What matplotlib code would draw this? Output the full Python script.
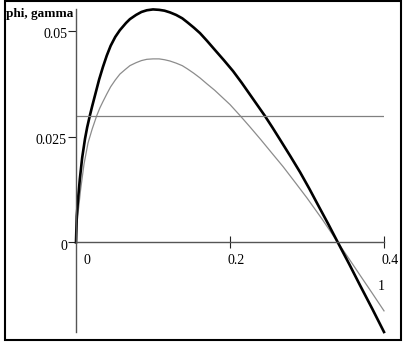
import matplotlib
matplotlib.use('Agg')
import matplotlib.pyplot as plt
from matplotlib.patches import Rectangle
from matplotlib.transforms import offset_copy

plt.rcParams['font.family'] = ['Liberation Serif', 'DejaVu Serif']

# values
l_phi = [0.0, 0.001, 0.0026, 0.005, 0.008, 0.0117, 0.0145, 0.018, 0.021, 0.025,
         0.03, 0.035, 0.04, 0.045, 0.051, 0.057, 0.065, 0.07, 0.078, 0.085,
         0.092, 0.1, 0.108, 0.115, 0.122, 0.13, 0.138, 0.145, 0.153, 0.161,
         0.17, 0.18, 0.192, 0.204, 0.215, 0.225, 0.235, 0.245, 0.255, 0.265,
         0.278, 0.291, 0.303, 0.315, 0.328, 0.34, 0.355, 0.369, 0.385, 0.4]
phi = [0.0, 0.0062, 0.0101, 0.0150, 0.0200, 0.0245, 0.0272, 0.0300, 0.0322, 0.0350,
       0.0385, 0.0415, 0.0442, 0.0465, 0.0486, 0.0502, 0.0519, 0.0528, 0.0538, 0.0545,
       0.0549, 0.0551, 0.0550, 0.0548, 0.0544, 0.0538, 0.0530, 0.0520, 0.0508, 0.0495,
       0.0477, 0.0456, 0.0431, 0.0405, 0.0378, 0.0352, 0.0326, 0.0300, 0.0272, 0.0243,
       0.0205, 0.0166, 0.0127, 0.0086, 0.0042, 0.0, -0.0052, -0.0102, -0.0158, -0.0212]

l_gamma = [0.0, 0.001, 0.003, 0.006, 0.0104, 0.0156, 0.021, 0.027, 0.031, 0.035,
           0.04, 0.045, 0.051, 0.057, 0.064, 0.07, 0.078, 0.085, 0.092, 0.1,
           0.108, 0.115, 0.122, 0.13, 0.138, 0.145, 0.153, 0.161, 0.17, 0.18,
           0.19, 0.2, 0.213, 0.226, 0.24, 0.254, 0.269, 0.285, 0.3, 0.32,
           0.34, 0.355, 0.369, 0.385, 0.4]
gamma = [0.0, 0.0040, 0.0075, 0.0125, 0.0185, 0.0235, 0.0268, 0.0300, 0.0318, 0.0333,
         0.0351, 0.0368, 0.0384, 0.0398, 0.0409, 0.0418, 0.0425, 0.0430, 0.0433, 0.0434,
         0.0434, 0.0432, 0.0429, 0.0424, 0.0418, 0.0410, 0.0400, 0.0389, 0.0375, 0.0360,
         0.0343, 0.0326, 0.0300, 0.0273, 0.0243, 0.0212, 0.0179, 0.0141, 0.0105, 0.0054,
         0.0, -0.0040, -0.0078, -0.0121, -0.0162]

level = 0.03
x_ticks = [0.2, 0.4]
x_labels = ['0', '0.2', '0.4']
x_label_pos = [0.0, 0.2, 0.4]
y_ticks = [0.0, 0.025, 0.05]
y_labels = ['0', '0.025', '0.05']

fig = plt.figure(figsize=(4.03, 3.42), dpi=100)
ax = fig.add_axes([76 / 403, 10 / 342, 308 / 403, 323 / 342])

ax.plot(l_gamma, gamma, color='#8c8c8c', lw=0.9, clip_on=False)
ax.plot(l_phi, phi, color='black', lw=1.9, clip_on=False)
ax.axhline(level, color='#808080', lw=0.9)

ax.set_xlim(0, 0.4)
ax.set_ylim(-0.0212, 0.0552)

ax.spines['top'].set_visible(False)
ax.spines['right'].set_visible(False)
ax.spines['bottom'].set_position(('data', 0))
ax.spines['left'].set_position(('data', 0))
for s in ('bottom', 'left'):
    ax.spines[s].set_color('#555555')
    ax.spines[s].set_linewidth(1.0)

ax.set_xticks(x_ticks)
ax.set_yticks(y_ticks)
ax.tick_params(axis='x', direction='inout', length=8, width=0.8, color='#222222',
               labelbottom=False)
ax.tick_params(axis='y', direction='out', length=6, width=0.8, color='#222222',
               labelleft=False)

# tick labels, placed the way the original program did it
for pos, lab in zip(x_label_pos, x_labels):
    dx = 7 if pos == 0 else -3
    tr = offset_copy(ax.transData, fig=fig, x=dx * 0.72, y=-12 * 0.72, units='points')
    ax.text(pos, 0, lab, transform=tr, ha='left', va='top', fontsize=10)

for pos, lab in zip(y_ticks, y_labels):
    tr = offset_copy(ax.transData, fig=fig, x=-9 * 0.72, y=-4 * 0.72, units='points')
    ax.text(0, pos, lab, transform=tr, ha='right', va='center', fontsize=10)

ax.text(0.396, -0.0104, '1', ha='center', va='center', fontsize=10)
fig.text(6 / 403, 1 - 14 / 342, 'phi, gamma', ha='left', va='center',
         fontsize=9.5, fontweight='bold')

fig.patches.append(Rectangle((5 / 403, 2 / 342), 396 / 403, 339 / 342,
                             transform=fig.transFigure, fill=False,
                             lw=1.5, ec='black'))

fig.savefig('out.png', dpi=100)
